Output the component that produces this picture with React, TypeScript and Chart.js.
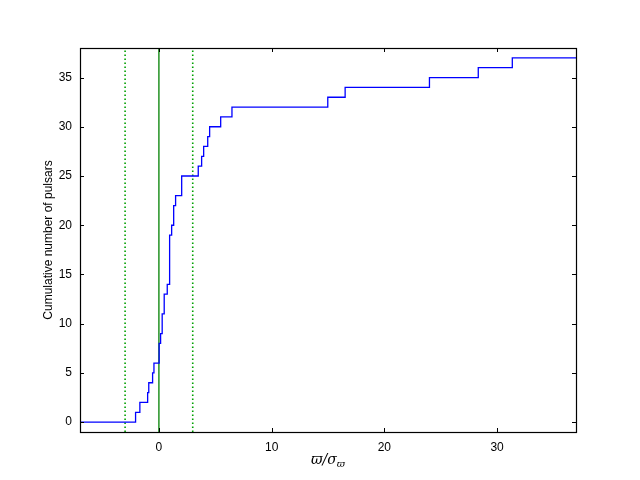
import React, { useEffect, useRef } from "react";
import { Chart, registerables } from "chart.js";

Chart.register(...registerables);

// Step positions (x where the cumulative count changes) and count after the step
const stepX = [-7, -2.07, -1.69, -1.0, -0.9, -0.56, -0.44, 0.02, 0.15, 0.29, 0.47, 0.74, 0.95, 1.13, 1.31, 1.48, 2.02, 3.49, 3.79, 3.97, 4.33, 4.5, 5.48, 6.48, 14.98, 16.52, 24.0, 28.33, 31.35, 37];
const stepY = [0, 1, 2, 3, 4, 5, 6, 8, 9, 11, 13, 14, 19, 20, 22, 23, 25, 26, 27, 28, 29, 30, 31, 32, 33, 34, 35, 36, 37, 37];

const solidLineX = [0];
const dottedLineX = [-3, 3];

const xTicks = [0, 10, 20, 30];
const yTicks = [0, 5, 10, 15, 20, 25, 30, 35];
const xRange = [-7, 37];
const yRange = [-1, 38];

const yTitle = "Cumulative number of pulsars";

const FONT = "'Liberation Sans', Arial, Helvetica, sans-serif";

const framePlugin = {
  id: "frame",
  afterDraw(chart: any) {
    const { ctx, chartArea } = chart;
    const { left, right, top, bottom } = chartArea;
    const xs = chart.scales.x;
    const ys = chart.scales.y;
    ctx.save();
    ctx.strokeStyle = "#000";
    ctx.lineWidth = 1;
    ctx.beginPath();
    for (const v of xTicks) {
      const px = Math.round(xs.getPixelForValue(v)) + 0.5;
      ctx.moveTo(px, bottom);
      ctx.lineTo(px, bottom - 4);
      ctx.moveTo(px, top);
      ctx.lineTo(px, top + 4);
    }
    for (const v of yTicks) {
      const py = Math.round(ys.getPixelForValue(v)) + 0.5;
      ctx.moveTo(left, py);
      ctx.lineTo(left + 4, py);
      ctx.moveTo(right, py);
      ctx.lineTo(right - 4, py);
    }
    ctx.stroke();
    ctx.lineWidth = 1.2;
    ctx.strokeRect(left + 0.5, top + 0.5, right - left, bottom - top);

    // x-axis title: ϖ/σ_ϖ
    ctx.fillStyle = "#000";
    ctx.textBaseline = "alphabetic";
    const main = "ϖ/σ";
    const sub = "ϖ";
    ctx.font = "italic 14px 'DejaVu Serif', serif";
    const wMain = ctx.measureText(main).width;
    ctx.font = "italic 10px 'DejaVu Serif', serif";
    const wSub = ctx.measureText(sub).width;
    const total = wMain + wSub;
    const cx = (left + right) / 2;
    const baseY = 464;
    ctx.textAlign = "left";
    ctx.font = "italic 14px 'DejaVu Serif', serif";
    ctx.fillText(main, cx - total / 2, baseY);
    ctx.font = "italic 10px 'DejaVu Serif', serif";
    ctx.fillText(sub, cx - total / 2 + wMain, baseY + 3);

    // y-axis title
    ctx.save();
    ctx.translate(49, (top + bottom) / 2);
    ctx.rotate(-Math.PI / 2);
    ctx.textAlign = "center";
    ctx.textBaseline = "middle";
    ctx.font = `12px ${FONT}`;
    ctx.fillText(yTitle, 0, 0);
    ctx.restore();
    ctx.restore();
  },
};

export default function App() {
  const ref = useRef<HTMLCanvasElement>(null);

  useEffect(() => {
    if (!ref.current) return;
    const stepData = stepX.map((x, i) => ({ x, y: stepY[i] }));
    const vline = (x: number) => [
      { x, y: yRange[0] },
      { x, y: yRange[1] },
    ];
    const datasets: any[] = [
      {
        data: stepData,
        borderColor: "#0000ff",
        borderWidth: 1.3,
        stepped: "before",
        pointRadius: 0,
        fill: false,
      },
      ...solidLineX.map((x) => ({
        data: vline(x),
        borderColor: "#008000",
        borderWidth: 1.3,
        pointRadius: 0,
        fill: false,
      })),
      ...dottedLineX.map((x) => ({
        data: vline(x),
        borderColor: "#00a000",
        borderWidth: 1.6,
        borderDash: [1.5, 2.5],
        pointRadius: 0,
        fill: false,
      })),
    ];

    const chart = new Chart(ref.current, {
      type: "line",
      data: { datasets },
      plugins: [framePlugin],
      options: {
        responsive: false,
        animation: false,
        layout: { padding: { left: 0, right: 64, top: 48, bottom: 0 } },
        plugins: {
          legend: { display: false },
          tooltip: { enabled: false },
        },
        scales: {
          x: {
            type: "linear",
            min: xRange[0],
            max: xRange[1],
            grid: { display: false, drawTicks: false },
            border: { display: false },
            afterBuildTicks: (s: any) => {
              s.ticks = xTicks.map((v) => ({ value: v }));
            },
            afterFit: (s: any) => {
              s.height = 48;
            },
            ticks: {
              padding: 8,
              color: "#000",
              font: { family: FONT, size: 12 },
              maxRotation: 0,
              callback: (v: any) => String(v),
            },
          },
          y: {
            type: "linear",
            min: yRange[0],
            max: yRange[1],
            grid: { display: false, drawTicks: false },
            border: { display: false },
            afterBuildTicks: (s: any) => {
              s.ticks = yTicks.map((v) => ({ value: v }));
            },
            afterFit: (s: any) => {
              s.width = 80;
            },
            ticks: {
              padding: 8,
              color: "#000",
              font: { family: FONT, size: 12 },
              callback: (v: any) => String(v),
            },
          },
        },
      },
    });
    return () => chart.destroy();
  }, []);

  return (
    <div style={{ position: "fixed", left: 0, top: 0, width: 640, height: 480, background: "#fff" }}>
      <canvas ref={ref} width={640} height={480} style={{ width: 640, height: 480 }} />
    </div>
  );
}
